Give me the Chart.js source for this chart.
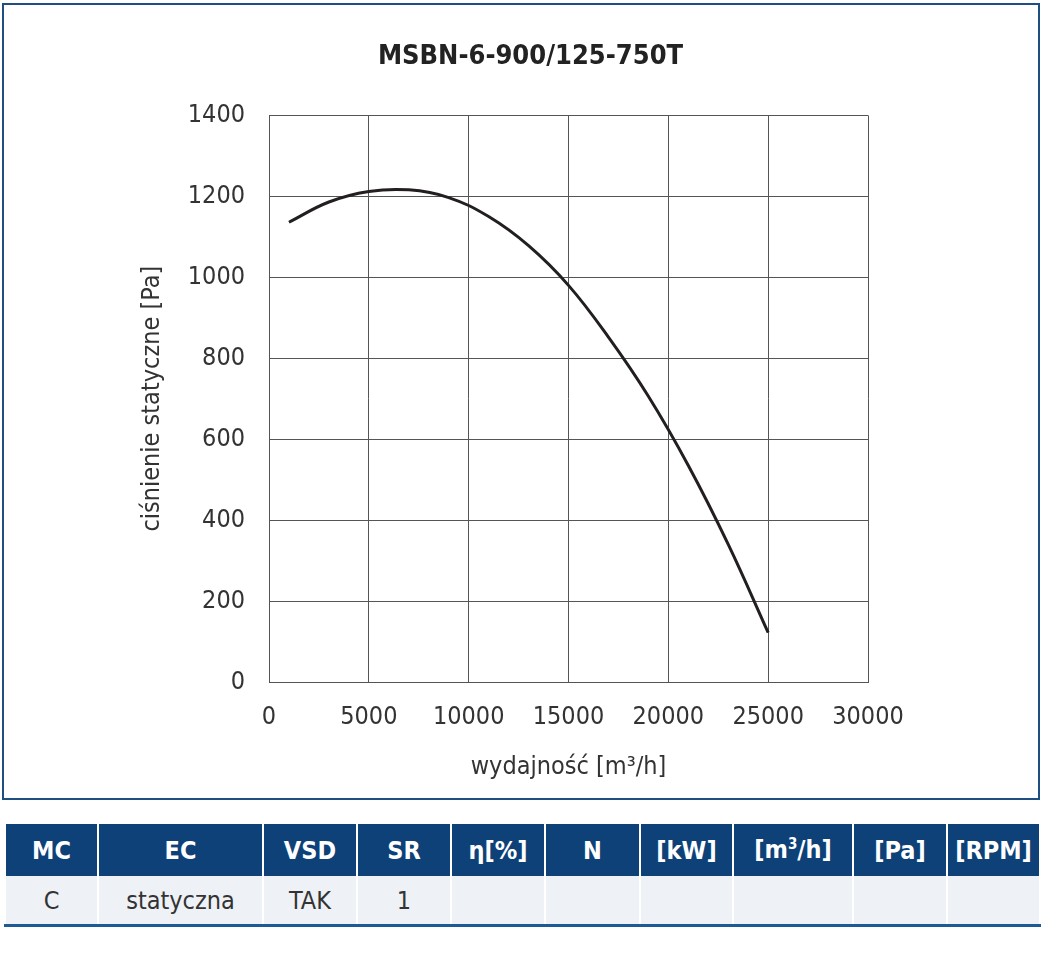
<!DOCTYPE html>
<html lang="pl">
<head>
    <meta charset="UTF-8">
    <title>MSBN-6-900/125-750T</title>
    <script src="https://cdn.jsdelivr.net/npm/chart.js"></script>
    <style>
        body { margin: 0; background: #fff; font-family: "Liberation Sans Narrow", "DejaVu Sans Condensed", sans-serif; }
        #box { position: absolute; left: 2px; top: 3px; width: 1034px; height: 793px; border: 2px solid #1d4f80; }
        #chart-wrap { position: absolute; left: 0; top: 0; width: 1043px; height: 800px; }
        table { position: absolute; left: 4px; top: 824px; width: 1035px; border-collapse: collapse; table-layout: fixed; border-bottom: 3px solid #1d5a96; }
        th, td { text-align: center; border-left: 2px solid #fff; border-right: 2px solid #fff; padding: 0; }
        th { background: #0d4178; color: #fff; font-weight: bold; font-size: 25px; height: 52px; }
        td { background: #eef1f6; color: #333; font-size: 25px; height: 48px; }
        sup { font-size: 15px; }
    </style>
</head>
<body>
    <div id="box"></div>
    <div id="chart-wrap"><canvas id="fan-chart"></canvas></div>

    <table id="fan-table">
        <colgroup>
            <col style="width:93px"><col style="width:165px"><col style="width:94px"><col style="width:94px">
            <col style="width:94px"><col style="width:95px"><col style="width:93px"><col style="width:120px">
            <col style="width:94px"><col style="width:93px">
        </colgroup>
        <thead><tr></tr></thead>
        <tbody><tr></tr></tbody>
    </table>

    <script>
        // curve
        const flow = [1000, 3000, 5000, 7000, 9000, 11000, 13000, 15000, 17000, 19000, 21000, 23000, 25000];
        const pressure = [1136, 1186, 1212, 1216, 1197, 1150, 1078, 980, 852, 706, 535, 340, 122];

        const headers = ['MC', 'EC', 'VSD', 'SR', 'η[%]', 'N', '[kW]', '[m<sup>3</sup>/h]', '[Pa]', '[RPM]'];
        const rowValues = ['C', 'statyczna', 'TAK', '1', '', '', '', '', '', ''];

        const FONT = '"Liberation Sans Narrow", "DejaVu Sans Condensed", sans-serif';

        // table
        document.querySelector('#fan-table thead tr').innerHTML = headers.map(h => `<th>${h}</th>`).join('');
        document.querySelector('#fan-table tbody tr').innerHTML = rowValues.map(v => `<td>${v}</td>`).join('');

        const canvas = document.getElementById('fan-chart');
        canvas.width = 1043;
        canvas.height = 800;

        new Chart(canvas.getContext('2d'), {
            type: 'line',
            data: {
                datasets: [{
                    data: flow.map((x, i) => ({ x: x, y: pressure[i] })),
                    borderColor: '#231f20',
                    borderWidth: 3,
                    pointRadius: 0,
                    tension: 0.4,
                    fill: false
                }]
            },
            options: {
                responsive: false,
                animation: false,
                layout: { padding: { left: 18, right: 0, top: 41, bottom: 0 } },
                plugins: {
                    legend: { display: false },
                    tooltip: { enabled: false },
                    title: {
                        display: true,
                        text: 'MSBN-6-900/125-750T',
                        color: '#222',
                        font: { family: FONT, size: 27, weight: 'bold' },
                        padding: { top: 0, bottom: 42 }
                    }
                },
                scales: {
                    x: {
                        type: 'linear',
                        min: 0,
                        max: 30000,
                        afterFit: s => { s.height = 118; },
                        ticks: {
                            stepSize: 5000,
                            padding: 20,
                            color: '#333',
                            font: { family: FONT, size: 25 },
                            maxRotation: 0,
                            callback: v => String(v)
                        },
                        grid: { color: '#555', lineWidth: 1, drawTicks: false },
                        border: { color: '#555', width: 1 },
                        title: {
                            display: true,
                            text: 'wydajność [m³/h]',
                            color: '#333',
                            font: { family: FONT, size: 25 },
                            padding: { top: 0, bottom: 18 }
                        }
                    },
                    y: {
                        min: 0,
                        max: 1400,
                        afterFit: s => { s.width = 251; },
                        ticks: {
                            stepSize: 200,
                            padding: 24,
                            color: '#333',
                            font: { family: FONT, size: 25 },
                            callback: v => String(v)
                        },
                        grid: { color: '#555', lineWidth: 1, drawTicks: false },
                        border: { color: '#555', width: 1 },
                        title: {
                            display: true,
                            text: 'ciśnienie statyczne [Pa]',
                            color: '#333',
                            font: { family: FONT, size: 25 },
                            padding: { top: 119, bottom: 0 }
                        }
                    },
                    // empty axis that only keeps the space right of the plot
                    spacer: {
                        position: 'right',
                        min: 0,
                        max: 1400,
                        afterFit: s => { s.width = 175; },
                        ticks: { display: false },
                        grid: { display: false, drawTicks: false },
                        border: { display: false }
                    }
                }
            }
        });
    </script>
</body>
</html>
